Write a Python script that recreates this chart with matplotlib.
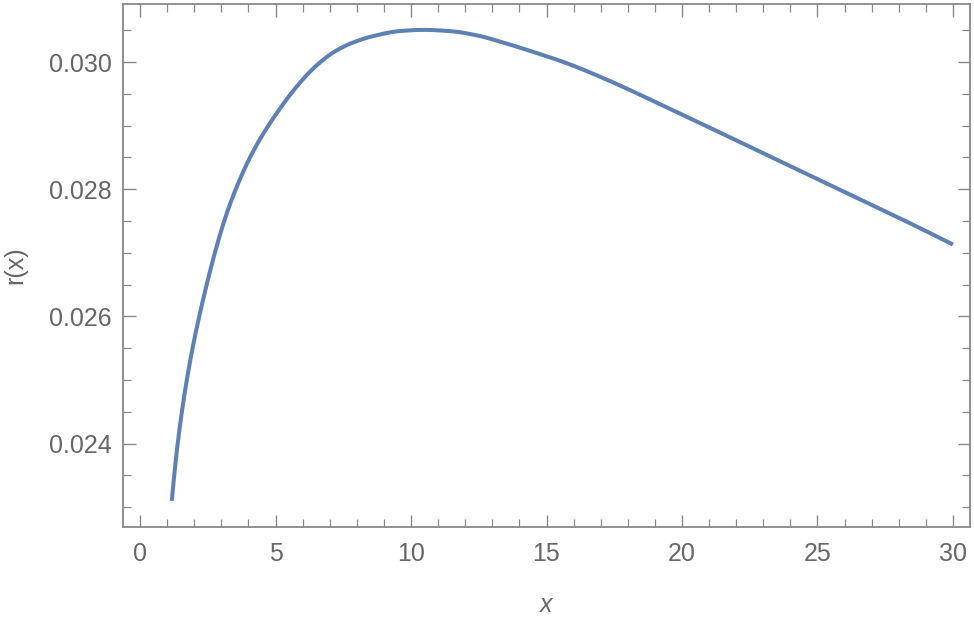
import matplotlib
matplotlib.use("Agg")
import matplotlib.pyplot as plt
import numpy as np
from matplotlib.ticker import MultipleLocator, FormatStrFormatter

# Curve r(x)
x_vals = [1.17, 1.36, 1.60, 1.91, 2.28, 2.77, 3.10, 3.48, 4.13, 4.86, 5.91,
          6.53, 7.14, 7.76, 8.62, 9.60, 10.47, 11.45, 12.44, 13.30, 14.53,
          15.76, 17.00, 20.44, 23.15, 25.86, 28.56, 30.0]
r_vals = [0.023100, 0.023898, 0.024666, 0.025441, 0.026181, 0.027014, 0.027493,
          0.027945, 0.028560, 0.029081, 0.029680, 0.029953, 0.030154, 0.030290,
          0.030410, 0.030488, 0.030506, 0.030486, 0.030419, 0.030320, 0.030157,
          0.029980, 0.029765, 0.029085, 0.028536, 0.027984, 0.027435, 0.027130]

x_label = "x"
y_label = "r(x)"

plt.rcParams['font.family'] = ['Liberation Sans', 'DejaVu Sans']
text_color = '#666666'
frame_color = '#888888'

fig = plt.figure(figsize=(9.74, 6.17), dpi=100)
ax = fig.add_axes([123/974, 1-527/617, (970-123)/974, (527-4)/617])

# draw a smooth line through the read points
try:
    from scipy.interpolate import PchipInterpolator
    f = PchipInterpolator(x_vals, r_vals)
    xx = np.linspace(x_vals[0], x_vals[-1], 600)
    ax.plot(xx, f(xx), color='#5E81B5', lw=2.9, solid_capstyle='butt')
except Exception:
    ax.plot(x_vals, r_vals, color='#5E81B5', lw=2.9, solid_capstyle='butt',
            solid_joinstyle='round')

ax.set_xlim(-0.63, 30.63)
ax.set_ylim(0.022688, 0.030913)

ax.xaxis.set_major_locator(MultipleLocator(5))
ax.xaxis.set_minor_locator(MultipleLocator(1))
ax.yaxis.set_major_locator(MultipleLocator(0.002))
ax.yaxis.set_minor_locator(MultipleLocator(0.0005))
ax.yaxis.set_major_formatter(FormatStrFormatter('%.3f'))

ax.tick_params(which='both', direction='in', top=True, right=True,
               color=frame_color, labelcolor=text_color, labelsize=18)
ax.tick_params(which='major', length=9, width=1.0, pad=8)
ax.tick_params(which='minor', length=5.5, width=0.9)
ax.tick_params(axis='x', which='major', pad=11)

for s in ax.spines.values():
    s.set_color(frame_color)
    s.set_linewidth(1.3)

ax.set_xlabel(x_label, fontsize=18, color=text_color, style='italic', labelpad=19)
ax.set_ylabel(y_label, fontsize=18, color=text_color, labelpad=16)

fig.savefig('out.png', dpi=100)
